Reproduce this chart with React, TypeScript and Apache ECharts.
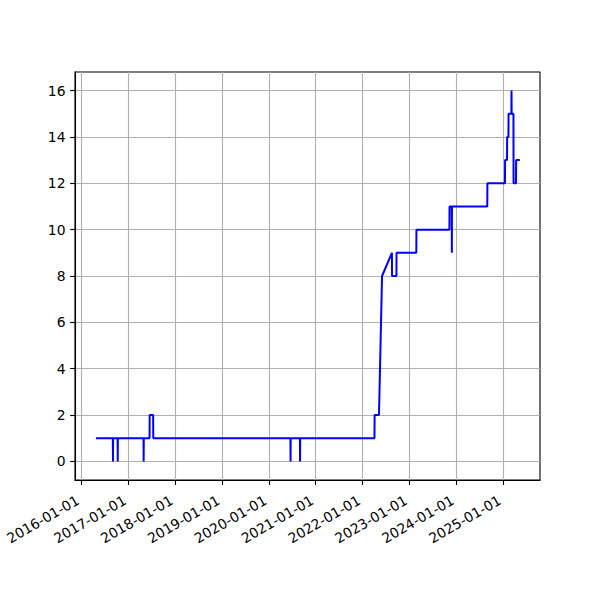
import React, { useEffect, useRef } from "react";
import * as echarts from "echarts";

const dates: string[] = [
  "2016-04-24", "2016-09-03", "2016-09-04", "2016-09-05", "2016-10-10", "2016-10-11", "2016-10-12",
  "2017-04-30", "2017-05-01", "2017-05-02", "2017-06-16", "2017-06-17", "2017-07-14", "2017-07-15",
  "2020-06-18", "2020-06-19", "2020-06-20", "2020-08-31", "2020-09-01", "2020-09-02",
  "2022-04-04", "2022-04-05", "2022-05-09", "2022-06-02", "2022-08-18", "2022-08-19",
  "2022-09-22", "2022-09-23", "2023-02-24", "2023-02-25", "2023-11-09", "2023-11-10",
  "2023-11-27", "2023-11-28", "2023-11-29", "2024-08-30", "2024-08-31",
  "2025-01-15", "2025-01-16", "2025-01-31", "2025-02-01", "2025-02-11", "2025-02-12",
  "2025-03-06", "2025-03-07", "2025-03-08", "2025-03-22", "2025-03-23",
  "2025-04-11", "2025-04-12", "2025-05-11",
];
const values: number[] = [
  1, 1, 0, 1, 1, 0, 1,
  1, 0, 1, 1, 2, 2, 1,
  1, 0, 1, 1, 0, 1,
  1, 2, 2, 8, 9, 8,
  8, 9, 9, 10, 10, 11,
  11, 9, 11, 11, 12,
  12, 13, 13, 14, 14, 15,
  15, 16, 15, 15, 12,
  12, 13, 13,
];
const xTickLabels: string[] = [
  "2016-01-01", "2017-01-01", "2018-01-01", "2019-01-01", "2020-01-01",
  "2021-01-01", "2022-01-01", "2023-01-01", "2024-01-01", "2025-01-01",
];
const yTicks: number[] = [0, 2, 4, 6, 8, 10, 12, 14, 16];

const xMin = "2015-11-13";
const xMax = "2025-10-15";

const toMs = (d: string) => new Date(d + "T00:00:00Z").getTime();
const fmt = (v: number) => {
  const d = new Date(v);
  const y = d.getUTCFullYear();
  const m = String(d.getUTCMonth() + 1).padStart(2, "0");
  const dd = String(d.getUTCDate()).padStart(2, "0");
  return `${y}-${m}-${dd}`;
};

export default function App() {
  const ref = useRef<HTMLDivElement>(null);
  useEffect(() => {
    if (!ref.current) return;
    const chart = echarts.init(ref.current, undefined, { renderer: "svg" });
    const xTickVals = xTickLabels.map(toMs);
    const font = "DejaVu Sans";
    chart.setOption({
      animation: false,
      backgroundColor: "#ffffff",
      grid: {
        left: 75,
        top: 72,
        right: 60,
        bottom: 120,
        show: true,
        borderColor: "#000000",
        borderWidth: 1.1,
        backgroundColor: "transparent",
      },
      xAxis: {
        type: "value",
        min: toMs(xMin),
        max: toMs(xMax),
        axisLine: { show: true, onZero: false, lineStyle: { color: "#000", width: 1.1 } },
        axisTick: {
          show: true,
          inside: false,
          length: 4.9,
          lineStyle: { color: "#000", width: 1.1 },
          customValues: xTickVals,
        },
        axisLabel: {
          customValues: xTickVals,
          rotate: 30,
          margin: 17,
          padding: [0, 4, 0, 0],
          color: "#000",
          fontFamily: font,
          fontSize: 13.9,
          formatter: (v: number) => fmt(v),
        },
        splitLine: { show: true, lineStyle: { color: "#b0b0b0", width: 1.1 } },
      },
      yAxis: {
        type: "value",
        min: -0.8,
        max: 16.8,
        axisLine: { show: true, onZero: false, lineStyle: { color: "#000", width: 1.1 } },
        axisTick: {
          show: true,
          inside: false,
          length: 4.9,
          lineStyle: { color: "#000", width: 1.1 },
          customValues: yTicks,
        },
        axisLabel: {
          customValues: yTicks,
          margin: 9.5,
          color: "#000",
          fontFamily: font,
          fontSize: 13.9,
        },
        splitLine: { show: true, lineStyle: { color: "#b0b0b0", width: 1.1 } },
      },
      series: [
        {
          type: "line",
          showSymbol: false,
          symbol: "none",
          data: dates.map((d, i) => [toMs(d), values[i]]),
          lineStyle: { color: "#0000ff", width: 2 },
          itemStyle: { color: "#0000ff" },
        },
      ],
    });
    return () => chart.dispose();
  }, []);
  return (
    <div
      ref={ref}
      style={{ position: "fixed", left: 0, top: 0, width: 600, height: 600 }}
    />
  );
}
